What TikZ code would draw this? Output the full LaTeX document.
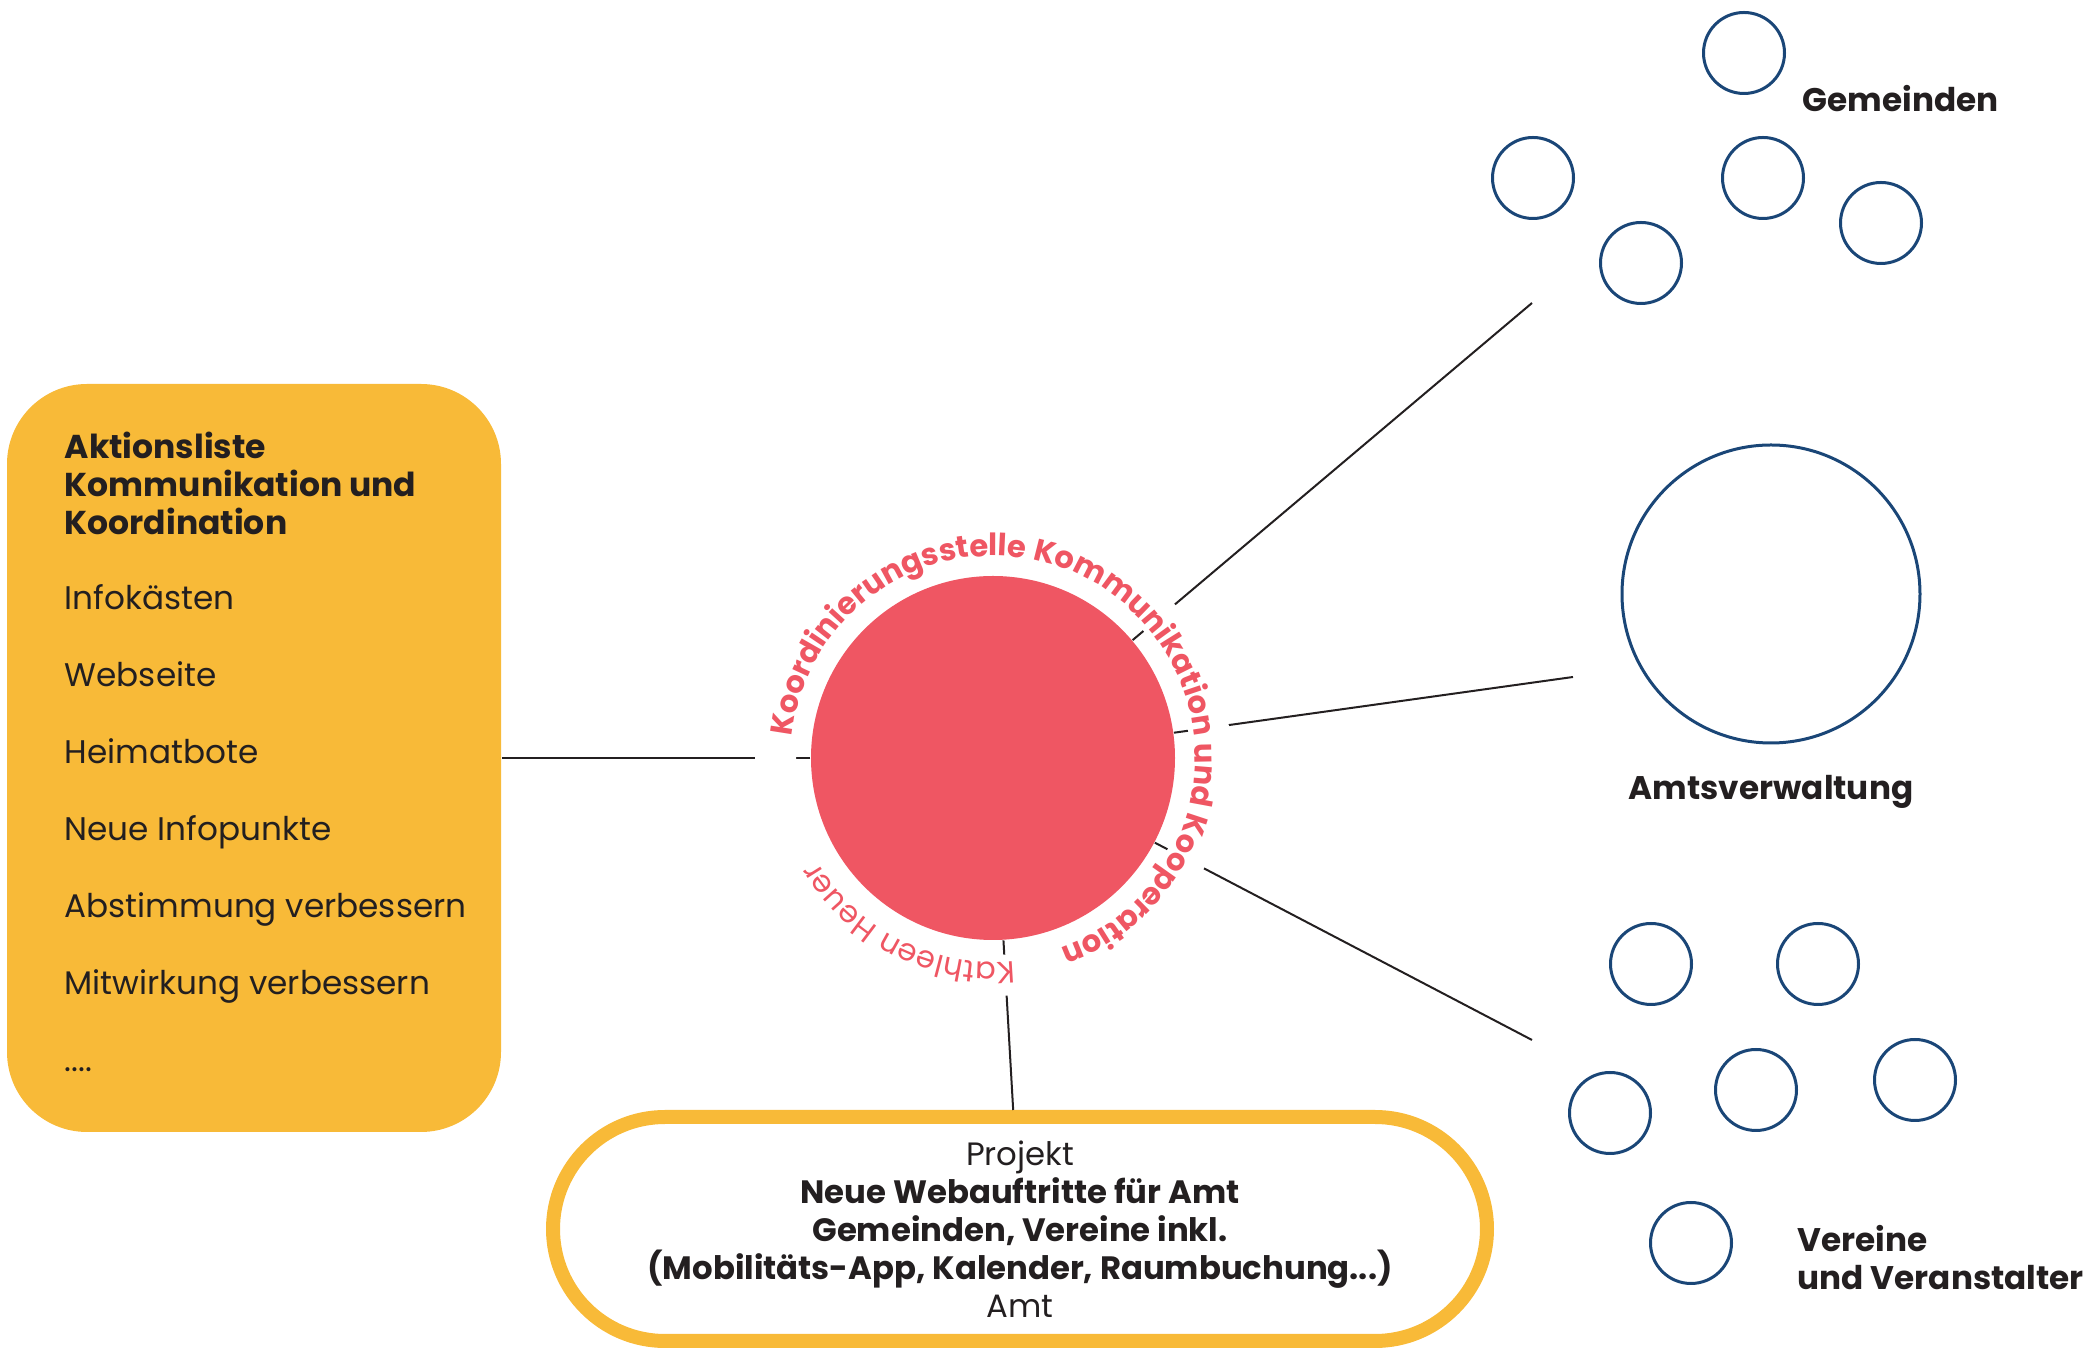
\documentclass[tikz,border=0pt]{standalone}
\usepackage{fontspec}
\setmainfont{Poppins}
\usepackage{tikz}
\usetikzlibrary{decorations.text}

\definecolor{hubred}{HTML}{EF5663}
\definecolor{listorange}{HTML}{F8BA38}
\definecolor{ringblue}{HTML}{1A4677}
\definecolor{ink}{HTML}{231F20}
\newcommand{\listdots}{....}

\begin{document}
\begin{tikzpicture}[x=0.1mm, y=0.1mm,
    conn/.style = {draw=ink, line width=0.2mm},
    member/.style = {circle, draw=ringblue, line width=0.3mm, minimum size=8.1mm, inner sep=0pt},
    grouplabel/.style = {anchor=base west, text=ink, inner sep=0pt, font=\fontsize{9.3}{11}\selectfont\bfseries},
    listitem/.style = {anchor=base west, text=ink, inner sep=0pt, font=\fontsize{9.3}{11}\selectfont}]
  \useasboundingbox (0,0) rectangle (2090,-1351);

  % centre
  \node[circle, fill=hubred, minimum size=36.4mm, inner sep=0pt] (hub) at (993,-758) {};

  % action list on the left
  \node[fill=listorange, rounded corners=8mm, minimum width=49.4mm, minimum height=74.8mm, inner sep=0pt] (liste) at (254,-758) {};
  \foreach \t [count=\i] in {Aktionsliste, Kommunikation und, Koordination}
    \node[listitem, font=\fontsize{9.4}{11}\selectfont\bfseries] (head\i) at (64,{-459-38*(\i-1)}) {\t};
  \foreach \t [count=\i] in {Infokästen, Webseite, Heimatbote, Neue Infopunkte, Abstimmung verbessern, Mitwirkung verbessern, \listdots}
    \node[listitem] (item\i) at (64,{-610-77*(\i-1)}) {\t};

  % project below
  \node[draw=listorange, line width=1.4mm, rounded corners=11.2mm, minimum width=93.4mm, minimum height=22.4mm,
        inner sep=0pt, align=center, text=ink, font=\fontsize{9.2}{10.8}\selectfont] (projekt) at (1020,-1229)
    {Projekt\\ \textbf{Neue Webauftritte für Amt}\\ \textbf{Gemeinden, Vereine inkl.}\\
     \textbf{(Mobilitäts-App, Kalender, Raumbuchung...)}\\ Amt};

  % Gemeinden
  \foreach \p [count=\i] in {(1744,-53), (1533,-178), (1763,-178), (1881,-223), (1641,-263)}
    \node[member] (gem\i) at \p {};
  \node[grouplabel] (gemlabel) at (1802,-112) {Gemeinden};

  % Amtsverwaltung
  \node[circle, draw=ringblue, line width=0.3mm, minimum size=29.8mm, inner sep=0pt] (amt) at (1771,-594) {};
  \node[grouplabel, anchor=base] (amtlabel) at (1771,-800) {Amtsverwaltung};

  % Vereine
  \foreach \p [count=\i] in {(1651,-964), (1818,-964), (1610,-1113), (1756,-1090), (1915,-1080), (1691,-1243)}
    \node[member] (ver\i) at \p {};
  \node[grouplabel] (verlabel1) at (1797,-1252) {Vereine};
  \node[grouplabel] (verlabel2) at (1797,-1290) {und Veranstalter};

  % connectors
  \coordinate (gemend) at (1532,-303);
  \coordinate (amtend) at (1573,-677);
  \coordinate (verend) at (1532,-1040);
  \draw[conn] (hub) -- (liste.east);
  \draw[conn] (hub) -- (gemend);
  \draw[conn] (hub) -- (amtend);
  \draw[conn] (hub) -- (verend);
  \draw[conn] (hub) -- (projekt);

  % gap for the ring text
  \fill[white, even odd rule] (hub.center) circle[radius=23.8mm] circle[radius=19.7mm];

  \path[decorate, decoration={text along path, text align=left,
      text={|\fontsize{8.7}{10}\selectfont\bfseries\color{hubred}|Koordinierungsstelle Kommunikation und Kooperation}}]
    ([shift={(174:20.2mm)}]hub.center) arc[start angle=174, end angle=-100, radius=20.2mm];
  \path[decorate, decoration={text along path, text align=left,
      text={|\fontsize{8.7}{10}\selectfont\color{hubred}|Kathleen Heuer}}]
    ([shift={(-84:20.4mm)}]hub.center) arc[start angle=-84, end angle=-175, radius=20.4mm];
\end{tikzpicture}
\end{document}
